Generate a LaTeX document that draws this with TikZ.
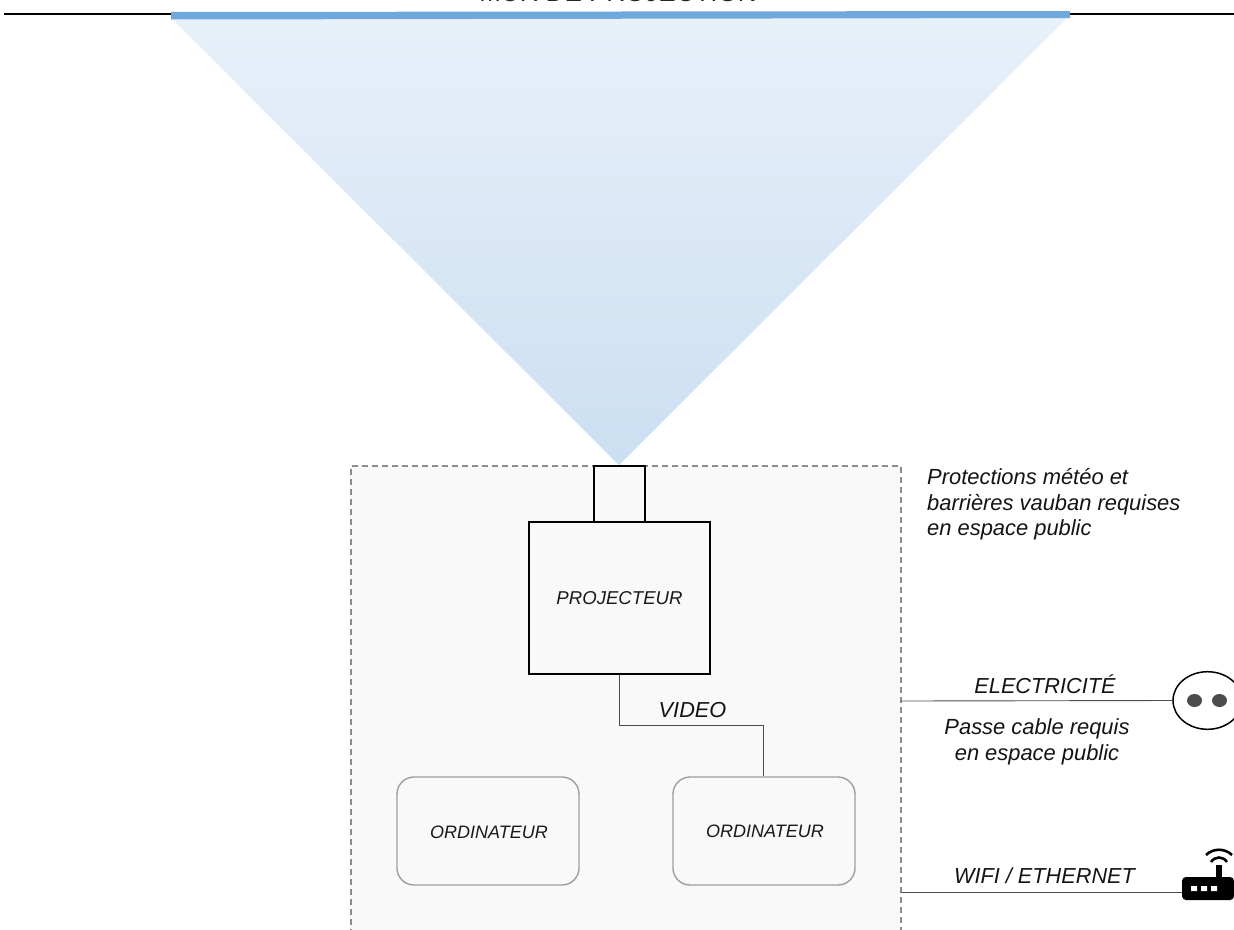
\documentclass[tikz,border=0pt]{standalone}
\usepackage{fontspec}
\setmainfont{Liberation Sans}
\tikzset{
  x=1pt,y=-1pt,
  lbl/.style={font=\itshape\fontsize{21.7}{26}\selectfont,text=black!92,inner sep=0pt,align=center},
  lblsmall/.style={font=\itshape\fontsize{18}{22}\selectfont,text=black!90,inner sep=0pt},
  note/.style={font=\itshape\fontsize{21.9}{25.7}\selectfont,text=black!92,inner sep=0pt},
  wire/.style={draw=black!70,line width=.9pt},
  blackbox/.style={draw=black,line width=2.4pt,fill=none,inner sep=0pt},
  pcbox/.style={draw=black!38,line width=1.4pt,rounded corners=17pt,minimum width=182pt,minimum height=108pt,inner sep=0pt},
}
\definecolor{wall}{HTML}{6FA8DC}
\definecolor{zone}{HTML}{F9F9F9}
\definecolor{beamtop}{HTML}{E8F0F9}
\definecolor{beambot}{HTML}{CBDFF2}
\begin{document}
\begin{tikzpicture}
\useasboundingbox (0,0) rectangle (1234,929);
\clip (0,0) rectangle (1234,929);
% wall
\node[coordinate] (wl) at (4,14) {};
\node[coordinate] (wr) at (1234,14) {};
\draw[black,line width=2.8pt] (wl) -- (wr);
\node[font=\fontsize{26}{30}\selectfont,text=black!85,inner sep=0pt,anchor=base] (mur) at (618,1.5) {MUR DE PROJECTION};
% beam
\shade[bottom color=beambot,top color=beamtop,shading angle=0] (172,19) -- (1068,17) -- (619,465) -- cycle;
\fill[wall] (171,12) -- (1070,11) -- (1070,18) -- (171,19.5) -- cycle;
% zone
\path[fill=zone] (351,466) rectangle (901,935);
\draw[draw=black!45,line width=1.6pt,dash pattern=on 6pt off 4pt] (351,935) -- (351,466) -- (901,466) -- (901,935);
% projector
\node[blackbox,minimum width=181pt,minimum height=152pt] (proj) at (619.5,598) {};
\node[lblsmall,font=\itshape\fontsize{18.6}{22}\selectfont] at (619.5,598.5) {PROJECTEUR};
\node[blackbox,minimum width=51pt,minimum height=56pt] (lens) at (619.5,494) {};
% computers
\node[pcbox] (pc1) at (488,831) {}; \node[lblsmall] at (489,832) {ORDINATEUR};
\node[pcbox] (pc2) at (764,831) {}; \node[lblsmall] at (765,831) {ORDINATEUR};
% video
\coordinate (vbend) at (763.3,725);
\draw[wire] (proj.south) |- (vbend) -- (vbend |- pc2.north);
\node[lbl,anchor=base] at (692.5,717) {VIDEO};
% note
\node[note,anchor=north west,align=left] at (927,468) {Protections météo et\\barrières vauban requises\\en espace public};
% electricity
\node[coordinate] (e0) at (901,701) {};
\draw[black,line width=1.5pt,fill=white] (1207.5,700.5) ellipse (34.5pt and 28.8pt);
\node[coordinate] (sock) at (1173,700.5) {};
\draw[wire] (e0) -- (sock);
\fill[black!70] (1194.5,700.5) ellipse (7.5pt and 6.5pt);
\fill[black!70] (1219.5,700.5) ellipse (7.5pt and 6.5pt);
\node[lbl,anchor=base] at (1045,693) {ELECTRICITÉ};
\node[note,anchor=north,align=center] at (1037,718.5) {Passe cable requis\\en espace public};
% network
\node[coordinate] (n0) at (901,892) {};
\node[coordinate] (rout) at (1183,892) {};
\draw[wire] (n0) -- (rout);
\node[lbl,anchor=base] at (1044.5,883) {WIFI / ETHERNET};
\fill[black,rounded corners=4pt] (1182,877) rectangle (1234,900);
\fill[black] (1216,865) rectangle (1222,878);
\fill[white] (1191,886) rectangle (1197,891) (1201,886) rectangle (1207,891) (1211,886) rectangle (1217,891);
\draw[black,line width=2.6pt] (1211,862) .. controls (1215,856) and (1223,856) .. (1227,862);
\draw[black,line width=2.6pt] (1206,855) .. controls (1213,848) and (1225,848) .. (1232,855);
\end{tikzpicture}
\end{document}
